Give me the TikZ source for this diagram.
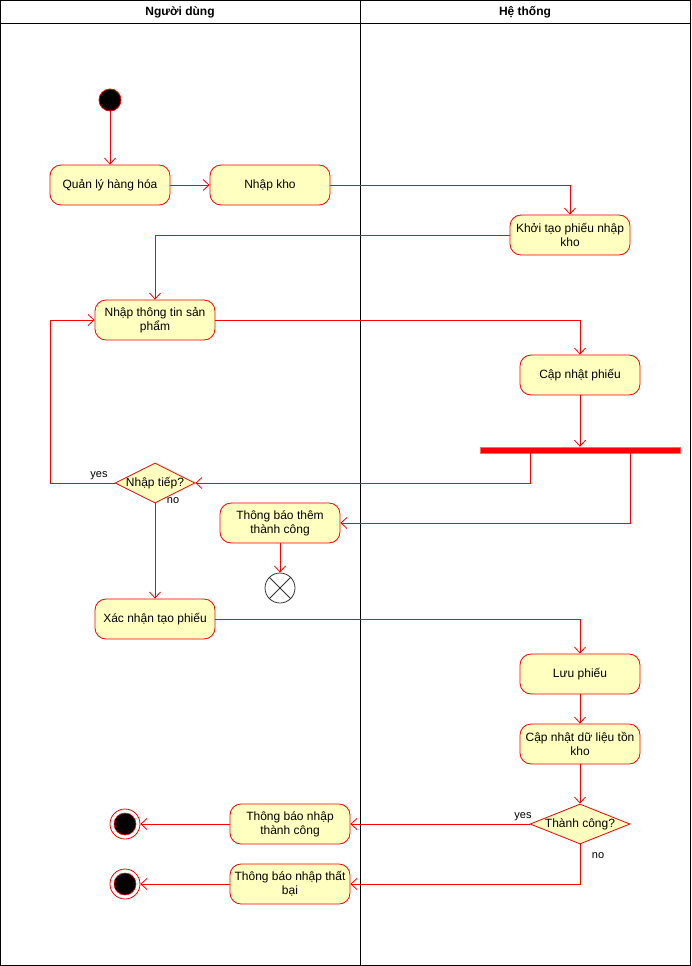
\documentclass[tikz,border=0pt]{standalone}
\usepackage{fontspec}
\setmainfont{Liberation Sans}
\usetikzlibrary{arrows.meta,shapes.geometric}
\definecolor{actfill}{HTML}{FFFFC0}
\definecolor{actred}{HTML}{FF0000}
\tikzset{
  act/.style={draw=actred,fill=actfill,rounded corners=11pt,minimum width=120pt,minimum height=40pt,align=center,inner sep=1pt,font=\fontsize{12}{14}\selectfont,line width=0.8pt},
  dec/.style={draw=actred,fill=actfill,diamond,inner sep=0pt,line width=0.8pt,label={[font=\fontsize{12}{14}\selectfont]center:#1}},
  flow/.style={draw=actred,line width=0.8pt,-{Straight Barb[length=6pt,width=11pt,line width=0.8pt]}},
  lbl/.style={font=\fontsize{11}{13}\selectfont,inner sep=0pt},
  hdr/.style={font=\bfseries\fontsize{12}{14}\selectfont}
}
\begin{document}
\begin{tikzpicture}[x=1pt,y=-1pt]
\useasboundingbox (0,0) rectangle (691,966);
\fill[white] (0,0) rectangle (691,966);
% lanes
\draw[line width=0.8pt] (0.5,0.5) rectangle (690.5,965.5);
\draw[line width=0.8pt] (0.5,23.5) -- (690.5,23.5);
\draw[line width=0.8pt] (360.5,0.5) -- (360.5,965.5);
\node[hdr] (h1) at (180,12) {Người dùng};
\node[hdr] (h2) at (525,12) {Hệ thống};
% nodes
\node[circle,draw=actred,fill=black,minimum size=22pt,inner sep=0pt,line width=0.8pt] (start) at (110,100) {};
\node[act] (ql) at (110,185) {Quản lý hàng hóa};
\node[act] (nk) at (270,185) {Nhập kho};
\node[act] (kt) at (570,235) {Khởi tạo phiếu nhập\\kho};
\node[act] (nt) at (155,320) {Nhập thông tin sản\\phẩm};
\node[act] (cp) at (580,375) {Cập nhật phiếu};
\node[draw=actred!60,fill=actred,minimum width=200pt,minimum height=6pt,inner sep=0pt] (bar) at (580,450) {};
\node[dec={Nhập tiếp?},minimum width=80pt,minimum height=40pt] (ntp) at (155,483) {};
\node[act] (tbt) at (280,523) {Thông báo thêm\\thành công};
\node[circle,draw=black!80,fill=white,minimum size=30pt,inner sep=0pt,line width=0.8pt] (ff) at (280,588) {};
\draw[black!80,line width=0.8pt] (ff.north west) -- (ff.south east) (ff.north east) -- (ff.south west);
\node[act] (xn) at (155,619) {Xác nhận tạo phiếu};
\node[act] (lp) at (580,674) {Lưu phiếu};
\node[act] (cd) at (580,744) {Cập nhật dữ liệu tồn\\kho};
\node[dec={Thành công?},minimum width=100pt,minimum height=40pt] (tc) at (580,824) {};
\node[act] (tbn) at (290,824) {Thông báo nhập\\thành công};
\node[act] (tbf) at (290,884) {Thông báo nhập thất\\bại};
\node[circle,draw=actred,fill=white,minimum size=30pt,inner sep=0pt,line width=0.8pt] (e1) at (125,824) {};
\node[circle,draw=actred,fill=black,minimum size=22pt,inner sep=0pt,line width=0.6pt] (e1i) at (125,824) {};
\node[circle,draw=actred,fill=white,minimum size=30pt,inner sep=0pt,line width=0.8pt] (e2) at (125,884) {};
\node[circle,draw=actred,fill=black,minimum size=22pt,inner sep=0pt,line width=0.6pt] (e2i) at (125,884) {};
% edges
\draw[flow] (start) -- (ql);
\draw[flow] (ql) -- (nk);
\draw[flow] (nk.east) -| (kt.north);
\draw[flow] (kt.west) -| (nt.north);
\draw[flow] (nt.east) -| (cp.north);
\draw[flow] (cp.south) -- (bar.north);
\draw[flow] ([xshift=-50pt]bar.south) |- (ntp.east);
\draw[flow] ([xshift=50pt]bar.south) |- (tbt.east);
\coordinate (yl) at (50,483);
\draw[flow] (ntp.west) -- (yl) |- (nt.west);
\node[lbl] (ly) at (99,476) {yes};
\draw[flow] (ntp.south) -- (xn.north);
\node[lbl] (ln) at (173,501) {no};
\draw[flow] (tbt.south) -- (ff.north);
\draw[flow] (xn.east) -| (lp.north);
\draw[flow] (lp) -- (cd);
\draw[flow] (cd) -- (tc);
\draw[flow] (tc.west) -- (tbn.east);
\node[lbl] (ly2) at (523,817) {yes};
\draw[flow] (tc.south) |- (tbf.east);
\node[lbl] (ln2) at (598,856) {no};
\draw[flow] (tbn.west) -- (e1.east);
\draw[flow] (tbf.west) -- (e2.east);
\end{tikzpicture}
\end{document}
